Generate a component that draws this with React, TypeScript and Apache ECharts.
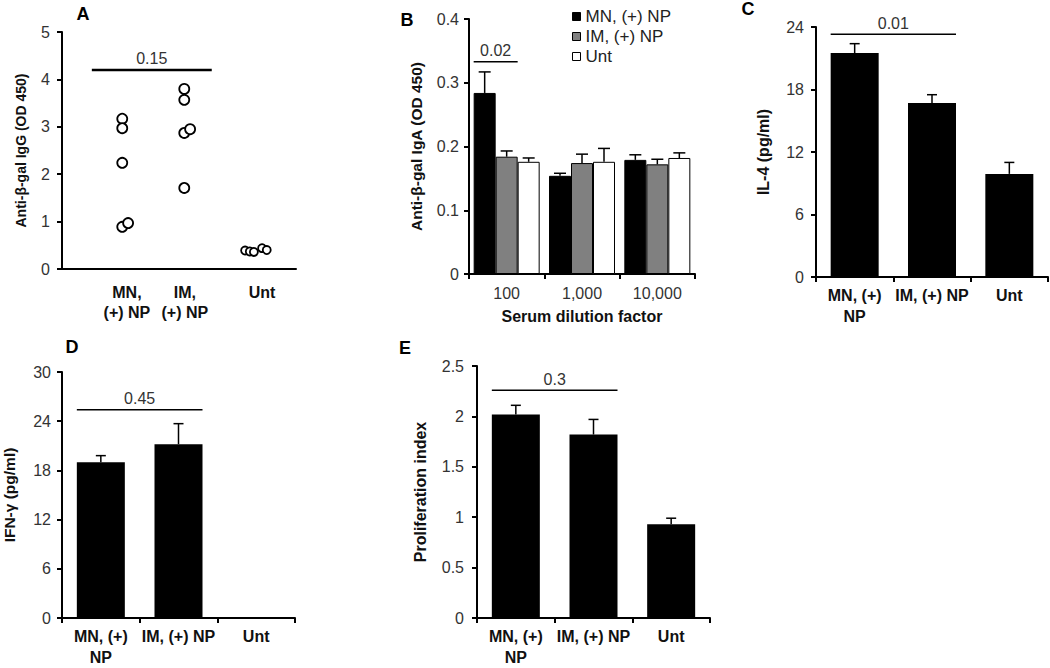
import React, { useEffect, useRef } from "react";
import * as echarts from "echarts";

const FONT = "Liberation Sans, Arial, sans-serif";

// ---- Panel A (scatter) ----
const aGroupLabels = ["MN,\n(+) NP", "IM,\n(+) NP", "Unt"];
const aGroupPos = [1.11, 2.1, 3.42];
const aMN = [3.17, 2.97, 2.24, 0.89, 0.97];
const aMNx = [1.03, 1.03, 1.03, 1.03, 1.13];
const aIM = [3.8, 3.57, 2.87, 2.95, 1.71];
const aIMx = [2.09, 2.09, 2.09, 2.19, 2.09];
const aUnt = [0.39, 0.37, 0.36, 0.44, 0.4];
const aUntx = [3.13, 3.21, 3.28, 3.42, 3.5];

// ---- Panel B (grouped bars) ----
const bCats = ["100", "1,000", "10,000"];
const bSeriesNames = ["MN, (+) NP", "IM, (+) NP", "Unt"];
const bMN = [0.284, 0.154, 0.179];
const bMNErr = [0.317, 0.158, 0.187];
const bIM = [0.184, 0.174, 0.172];
const bIMErr = [0.193, 0.188, 0.18];
const bUnt = [0.176, 0.176, 0.182];
const bUntErr = [0.182, 0.197, 0.19];

// ---- Panels C, D, E ----
const groupCats = ["MN, (+)\nNP", "IM, (+) NP", "Unt"];
const cVals = [21.5, 16.7, 9.9];
const cErr = [22.4, 17.5, 11.0];
const dVals = [19.0, 21.2, 0];
const dErr = [19.8, 23.7, null];
const eVals = [2.02, 1.82, 0.93];
const eErr = [2.11, 1.97, 0.99];

// ---- significance annotations: [from, to, level] ----
const sigLabels = ["0.15", "0.02", "0.01", "0.45", "0.3"];
const sigA = [0.51, 2.56, 4.2];
const sigB = [0, 0, 0.333];
const sigC = [0, 1, 23.3];
const sigD = [0, 1, 25.4];
const sigE = [0, 1, 2.26];

const BW_B = 22;
const BW = 48;

function errData(vals: number[], errs: (number | null)[]) {
  const out: number[][] = [];
  vals.forEach((v, i) => {
    const e = errs[i];
    if (e !== null && e !== undefined) out.push([i, v, e]);
  });
  return out;
}

function errSeries(gi: number, data: number[][], offset: number, capHalf: number) {
  return {
    type: "custom",
    xAxisIndex: gi,
    yAxisIndex: gi,
    silent: true,
    z: 5,
    data,
    renderItem: (params: any, api: any) => {
      const p0 = api.coord([api.value(0), api.value(1)]);
      const p1 = api.coord([api.value(0), api.value(2)]);
      const x = p0[0] + offset;
      const st = { stroke: "#000", lineWidth: 1.5 };
      return {
        type: "group",
        children: [
          { type: "line", shape: { x1: x, y1: p0[1], x2: x, y2: p1[1] }, style: st },
          { type: "line", shape: { x1: x - capHalf, y1: p1[1], x2: x + capHalf, y2: p1[1] }, style: st },
        ],
      };
    },
  };
}

function sigSeries(gi: number, sig: number[], label: string, extL: number, extR: number, lw: number) {
  return {
    type: "custom",
    xAxisIndex: gi,
    yAxisIndex: gi,
    silent: true,
    z: 6,
    data: [sig],
    renderItem: (params: any, api: any) => {
      const p0 = api.coord([api.value(0), api.value(2)]);
      const p1 = api.coord([api.value(1), api.value(2)]);
      const xL = p0[0] - extL;
      const xR = p1[0] + extR;
      const y = p0[1];
      return {
        type: "group",
        children: [
          { type: "line", shape: { x1: xL, y1: y, x2: xR, y2: y }, style: { stroke: "#000", lineWidth: lw } },
          {
            type: "text",
            style: {
              x: (xL + xR) / 2,
              y: y - 3,
              text: label,
              align: "center",
              verticalAlign: "bottom",
              fontSize: 16,
              fontFamily: FONT,
              fill: "#333",
            },
          },
        ],
      };
    },
  };
}

const axisLineStyle = { color: "#000", width: 2 };

function yAxis(gi: number, max: number, interval: number, name: string, nameGap: number, margin: number, nameSize: number) {
  return {
    type: "value",
    gridIndex: gi,
    min: 0,
    max,
    interval,
    name,
    nameLocation: "middle",
    nameRotate: 90,
    nameGap,
    nameTextStyle: { fontFamily: FONT, fontSize: nameSize, fontWeight: "bold", color: "#111" },
    axisLine: { show: true, lineStyle: axisLineStyle },
    axisTick: { show: true, length: 5, lineStyle: axisLineStyle },
    axisLabel: { fontFamily: FONT, fontSize: 16, color: "#333", margin },
    splitLine: { show: false },
  };
}

function catAxis(gi: number, cats: string[], bold: boolean, margin: number) {
  return {
    type: "category",
    gridIndex: gi,
    data: cats,
    axisLine: { show: true, lineStyle: axisLineStyle },
    axisTick: { show: true, length: 5, lineStyle: axisLineStyle },
    axisLabel: {
      interval: 0,
      fontFamily: FONT,
      fontSize: 16,
      fontWeight: bold ? "bold" : "normal",
      color: bold ? "#111" : "#333",
      margin,
      lineHeight: 21,
    },
    splitLine: { show: false },
  };
}

function scatterSeries(xs: number[], ys: number[], size: number) {
  return {
    type: "scatter",
    xAxisIndex: 0,
    yAxisIndex: 0,
    symbol: "circle",
    symbolSize: size,
    itemStyle: { color: "#fff", borderColor: "#000", borderWidth: 1.8, opacity: 1 },
    data: ys.map((y, i) => [xs[i], y]),
    z: 3,
  };
}

function panelLetter(t: string, x: number, y: number) {
  return {
    type: "text",
    x,
    y,
    style: { text: t, fontFamily: FONT, fontSize: 18, fontWeight: "bold", fill: "#000", align: "center", verticalAlign: "middle" },
  };
}

export default function App() {
  const ref = useRef<HTMLDivElement>(null);
  useEffect(() => {
    if (!ref.current) return;
    const chart = echarts.init(ref.current, null, { renderer: "svg" });
    const option: any = {
      animation: false,
      backgroundColor: "#fff",
      grid: [
        { left: 62, top: 32, width: 234, height: 237 },
        { left: 469, top: 19, width: 226, height: 255 },
        { left: 816, top: 27, width: 232, height: 250 },
        { left: 61, top: 372, width: 234, height: 250 },
        { left: 477, top: 366, width: 233, height: 258 },
      ],
      legend: {
        left: 572,
        top: 8,
        orient: "vertical",
        itemWidth: 8,
        itemHeight: 8,
        itemGap: 3,
        padding: 0,
        icon: "rect",
        textStyle: { fontFamily: FONT, fontSize: 17, color: "#222" },
        data: bSeriesNames.map((n) => ({ name: n, itemStyle: { borderColor: "#000", borderWidth: 1 } })),
      },
      xAxis: [
        {
          type: "value",
          gridIndex: 0,
          min: 0,
          max: 4,
          axisLine: { show: true, lineStyle: axisLineStyle },
          axisTick: { show: false },
          splitLine: { show: false },
          axisLabel: {
            customValues: aGroupPos,
            fontFamily: FONT,
            fontSize: 16,
            fontWeight: "bold",
            color: "#111",
            margin: 13,
            lineHeight: 20,
            formatter: (v: number) => {
              let best = 0;
              aGroupPos.forEach((p, i) => {
                if (Math.abs(p - v) < Math.abs(aGroupPos[best] - v)) best = i;
              });
              return aGroupLabels[best];
            },
          },
        },
        {
          ...catAxis(1, bCats, false, 9),
          name: "Serum dilution factor",
          nameLocation: "middle",
          nameGap: 34,
          nameTextStyle: { fontFamily: FONT, fontSize: 16, fontWeight: "bold", color: "#111", verticalAlign: "top" },
        },
        catAxis(2, groupCats, true, 8),
        catAxis(3, groupCats, true, 8),
        catAxis(4, groupCats, true, 8),
      ],
      yAxis: [
        yAxis(0, 5, 1, "Anti-β-gal IgG (OD 450)", 34, 12, 14),
        yAxis(1, 0.4, 0.1, "Anti-β-gal IgA (OD 450)", 45, 10, 15.5),
        yAxis(2, 24, 6, "IL-4 (pg/ml)", 45, 12, 16),
        yAxis(3, 30, 6, "IFN-γ (pg/ml)", 45, 11, 15.5),
        yAxis(4, 2.5, 0.5, "Proliferation index", 49, 13, 16),
      ],
      graphic: [
        panelLetter("A", 83, 14),
        panelLetter("B", 407, 20),
        panelLetter("C", 748, 9),
        panelLetter("D", 72, 347),
        panelLetter("E", 405, 348),
      ],
      series: [
        // Panel A
        scatterSeries(aMNx, aMN, 10),
        scatterSeries(aIMx, aIM, 10),
        scatterSeries(aUntx, aUnt, 8),
        sigSeries(0, sigA, sigLabels[0], 0, 0, 2.5),
        // Panel B
        {
          type: "bar",
          name: bSeriesNames[0],
          xAxisIndex: 1,
          yAxisIndex: 1,
          data: bMN,
          barWidth: BW_B,
          barGap: "0%",
          itemStyle: { color: "#000", borderColor: "#000", borderWidth: 1 },
        },
        {
          type: "bar",
          name: bSeriesNames[1],
          xAxisIndex: 1,
          yAxisIndex: 1,
          data: bIM,
          barWidth: BW_B,
          barGap: "0%",
          itemStyle: { color: "#808080", borderColor: "#000", borderWidth: 1 },
        },
        {
          type: "bar",
          name: bSeriesNames[2],
          xAxisIndex: 1,
          yAxisIndex: 1,
          data: bUnt,
          barWidth: BW_B,
          barGap: "0%",
          itemStyle: { color: "#fff", borderColor: "#000", borderWidth: 1 },
        },
        errSeries(1, errData(bMN, bMNErr), -BW_B, 6),
        errSeries(1, errData(bIM, bIMErr), 0, 6),
        errSeries(1, errData(bUnt, bUntErr), BW_B, 6),
        sigSeries(1, sigB, sigLabels[1], 1.5 * BW_B, 0.5 * BW_B, 1.5),
        // Panel C
        { type: "bar", xAxisIndex: 2, yAxisIndex: 2, data: cVals, barWidth: BW, itemStyle: { color: "#000" } },
        errSeries(2, errData(cVals, cErr), 0, 5),
        sigSeries(2, sigC, sigLabels[2], BW / 2, BW / 2, 1.5),
        // Panel D
        { type: "bar", xAxisIndex: 3, yAxisIndex: 3, data: dVals, barWidth: BW, itemStyle: { color: "#000" } },
        errSeries(3, errData(dVals, dErr), 0, 5),
        sigSeries(3, sigD, sigLabels[3], BW / 2, BW / 2, 1.5),
        // Panel E
        { type: "bar", xAxisIndex: 4, yAxisIndex: 4, data: eVals, barWidth: BW, itemStyle: { color: "#000" } },
        errSeries(4, errData(eVals, eErr), 0, 5),
        sigSeries(4, sigE, sigLabels[4], BW / 2, BW / 2, 1.5),
      ],
    };
    chart.setOption(option);
    return () => chart.dispose();
  }, []);
  return <div ref={ref} style={{ position: "fixed", left: 0, top: 0, width: 1050, height: 668, background: "#fff" }} />;
}
